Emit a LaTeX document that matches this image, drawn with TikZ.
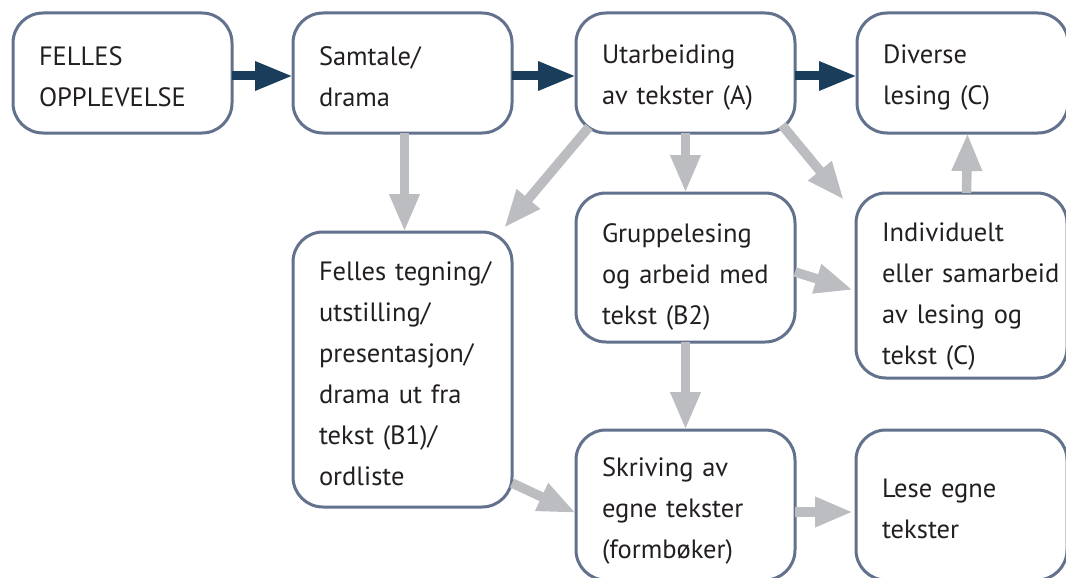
\documentclass[tikz,border=0pt]{standalone}
\usepackage{fontspec}
\setmainfont{PT Sans}
\usepackage{tikz}
\usetikzlibrary{positioning, arrows.meta}
\hyphenpenalty=10000
\exhyphenpenalty=10000
\definecolor{boxline}{RGB}{98,113,140}
\definecolor{ink}{RGB}{35,31,32}
\definecolor{darkflow}{RGB}{26,61,92}
\definecolor{greyflow}{RGB}{188,189,192}
\tikzset{
	stage/.style={
		draw=boxline,
		fill=white,
		line width=3pt,
		rounded corners=30pt,
		align=left,
		text=ink,
		inner xsep=0pt,
		inner ysep=0pt,
		outer sep=0pt,
		minimum width=219pt,
		minimum height=120pt,
		text width=167pt,
		text height=27pt,
		font={\fontsize{26.5}{41}\selectfont}
	},
	narrow/.style={
		minimum width=211pt,
		text width=159pt
	},
	% pushes the text block a bit down in a tall box
	toptext/.style={
		text height=#1
	},
	lead/.style={
		draw=darkflow,
		line width=9pt,
		-{Triangle[length=38pt, width=27pt]}
	},
	flow/.style={
		draw=greyflow,
		line width=9.5pt,
		-{Triangle[length=38pt, width=28pt]}
	}
}

\begin{document}
\begin{tikzpicture}[x=1pt, y=1pt]
		\useasboundingbox (0,0) rectangle (1066,-578);

		\node(felles)[stage] at (122.5,-73) {FELLES\\OPPLEVELSE};
		\node(samtale)[stage, right=61pt of felles]{Samtale/\\drama};
		\node(utarb)[stage, right=64pt of samtale]{Utarbeiding\\av tekster (A)};
		\node(diverse)[stage, narrow, right=62pt of utarb]{Diverse\\lesing (C)};

		\node(tegning)[stage, minimum height=275pt, below=99pt of samtale]{Felles~tegning/\\utstilling/\\presentasjon/\\drama ut fra\\tekst (B1)/\\ordliste};
		\node(gruppe)[stage, toptext=38pt, minimum height=149pt, below=60pt of utarb]{Gruppelesing\\og~arbeid~med\\tekst (B2)};
		\node(individ)[stage, narrow, toptext=40pt, minimum height=185pt, right=61pt of gruppe.north east, anchor=north west]{Individuelt\\eller~samarbeid\\av lesing og\\tekst (C)};

		\node(skriving)[stage, toptext=30pt, minimum height=150pt, below=88pt of gruppe]{Skriving av\\egne tekster\\(formbøker)};
		\node(lese)[stage, narrow, minimum height=150pt, right=61pt of skriving]{Lese egne\\tekster};

		\draw[lead] ([yshift=-3pt]felles.east) -- ([yshift=-3pt]samtale.west);
		\draw[lead] ([yshift=-3pt]samtale.east) -- ([yshift=-3pt]utarb.west);
		\draw[lead] ([yshift=-3pt]utarb.east) -- ([yshift=-3pt]diverse.west);

		\draw[flow] ([xshift=2pt]samtale.south) -- ([xshift=2pt]tegning.north);
		\draw[flow] (utarb.south) -- (gruppe.north);
		\draw[flow] ([shift={(13pt,6pt)}]utarb.south west) -- ([shift={(-8pt,4pt)}]tegning.north east);
		\draw[flow] ([shift={(-13pt,8pt)}]utarb.south east) -- ([shift={(-12pt,-7pt)}]individ.north west);
		\draw[flow] ([yshift=-4.5pt]gruppe.east) -- ([shift={(-3pt,-4.5pt)}]individ.west);
		\draw[flow] ([xshift=5pt]individ.north) -- ([xshift=5pt]diverse.south);
		\draw[flow] (gruppe.south) -- (skriving.north);
		\draw[flow] ([yshift=24pt]tegning.south east) -- ([yshift=-8pt]skriving.west);
		\draw[flow] ([yshift=-7pt]skriving.east) -- ([shift={(-3pt,-7pt)}]lese.west);
\end{tikzpicture}
\end{document}
